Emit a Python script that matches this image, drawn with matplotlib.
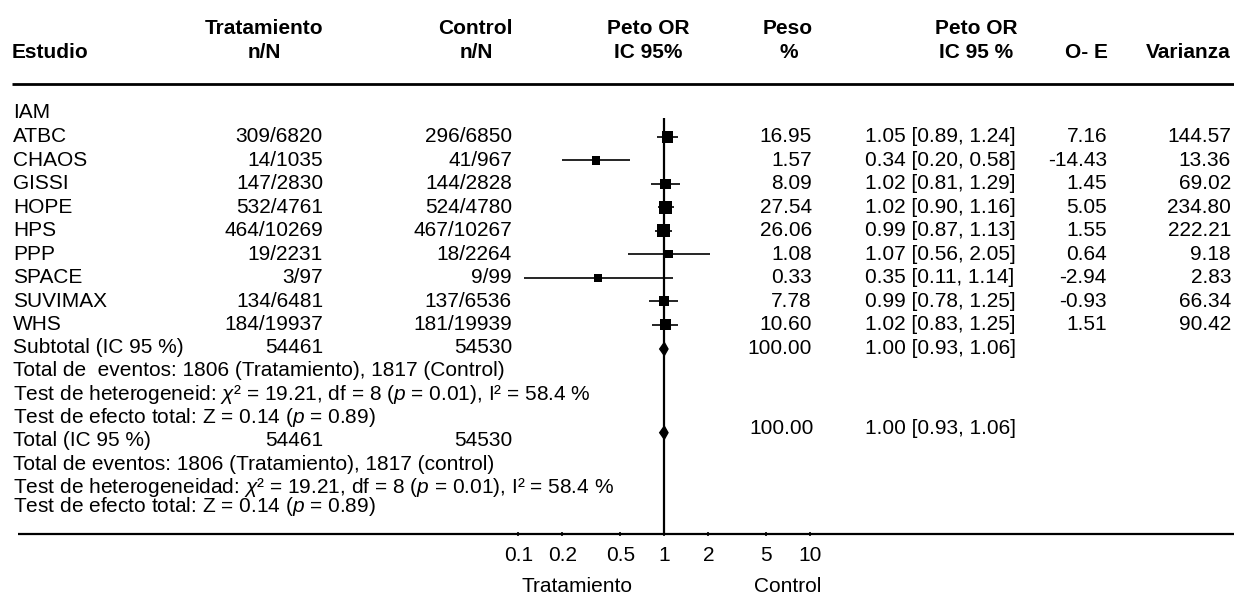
import numpy as np
import matplotlib.pyplot as plt
from matplotlib.ticker import FixedLocator, FixedFormatter, NullLocator

plt.rcParams['font.family'] = ['Liberation Sans', 'DejaVu Sans']
plt.rcParams['mathtext.fontset'] = 'custom'
plt.rcParams['mathtext.rm'] = 'Liberation Sans'
plt.rcParams['mathtext.it'] = 'Liberation Sans:italic'

# datos de los estudios
estudios = ['ATBC', 'CHAOS', 'GISSI', 'HOPE', 'HPS', 'PPP', 'SPACE', 'SUVIMAX', 'WHS']
tratamiento = ['309/6820', '14/1035', '147/2830', '532/4761', '464/10269',
               '19/2231', '3/97', '134/6481', '184/19937']
control = ['296/6850', '41/967', '144/2828', '524/4780', '467/10267',
           '18/2264', '9/99', '137/6536', '181/19939']
peso = [16.95, 1.57, 8.09, 27.54, 26.06, 1.08, 0.33, 7.78, 10.60]
peto_or = [1.05, 0.34, 1.02, 1.02, 0.99, 1.07, 0.35, 0.99, 1.02]
ic_inf = [0.89, 0.20, 0.81, 0.90, 0.87, 0.56, 0.11, 0.78, 0.83]
ic_sup = [1.24, 0.58, 1.29, 1.16, 1.13, 2.05, 1.14, 1.25, 1.25]
o_e = [7.16, -14.43, 1.45, 5.05, 1.55, 0.64, -2.94, -0.93, 1.51]
varianza = [144.57, 13.36, 69.02, 234.80, 222.21, 9.18, 2.83, 66.34, 90.42]

# resumen
or_global, ic_global_inf, ic_global_sup = 1.00, 0.93, 1.06
peso_total = 100.00
n_trat, n_ctrl = 54461, 54530
ev_trat, ev_ctrl = 1806, 1817
chi2, gl, p_het, i2 = 19.21, 8, 0.01, 58.4
z_val, p_z = 0.14, 0.89

ticks = [0.1, 0.2, 0.5, 1, 2, 5, 10]
tick_labels = ['0.1', '0.2', '0.5', '1', '2', '5', '10']

W, H = 1234, 597
FS = 15.0

fig = plt.figure(figsize=(W / 100, H / 100), dpi=100)

# ejes para texto en coordenadas de pixel
tx = fig.add_axes([0, 0, 1, 1])
tx.set_xlim(0, W)
tx.set_ylim(H, 0)
tx.axis('off')

# ejes del forest plot (escala log)
fx = fig.add_axes([0, 0, 1, 1])
fx.set_xscale('log')
ppd = 146.0
x_uno = 664.3
fx.set_xlim(10 ** (-x_uno / ppd), 10 ** ((W - x_uno) / ppd))
fx.set_ylim(H, 0)
fx.patch.set_visible(False)
for s in fx.spines.values():
    s.set_visible(False)
fx.spines['bottom'].set_position(('data', 534))
fx.yaxis.set_major_locator(NullLocator())
fx.xaxis.set_major_locator(FixedLocator(ticks))
fx.xaxis.set_major_formatter(FixedFormatter(tick_labels))
fx.xaxis.set_minor_locator(NullLocator())
fx.tick_params(axis='x', direction='inout', length=3, width=1.2, pad=7,
               labelsize=FS, colors='black')

# cabecera
bold = dict(fontsize=FS, fontweight='bold', va='center')
tx.text(12, 53, 'Estudio', ha='left', **bold)
tx.text(264, 28, 'Tratamiento', ha='center', **bold)
tx.text(264, 53, 'n/N', ha='center', **bold)
tx.text(475, 29, 'Control', ha='center', **bold)
tx.text(476, 53, 'n/N', ha='center', **bold)
tx.text(648, 28, 'Peto OR', ha='center', **bold)
tx.text(648, 52, 'IC 95%', ha='center', **bold)
tx.text(788, 28, 'Peso', ha='center', **bold)
tx.text(789, 52, '%', ha='center', **bold)
tx.text(976, 28, 'Peto OR', ha='center', **bold)
tx.text(976, 52, 'IC 95 %', ha='center', **bold)
tx.text(1086, 53, 'O- E', ha='center', **bold)
tx.text(1231, 53, 'Varianza', ha='right', **bold)

tx.hlines(84, 12, W, color='black', lw=2.0)
tx.hlines(534, 18, W, color='black', lw=1.6)

norm = dict(fontsize=FS, va='center')

# filas de estudios
y0, paso = 136.7, 23.5
filas = y0 + paso * np.arange(len(estudios))
tx.text(13, 113, 'IAM', ha='left', **norm)
for i, y in enumerate(filas):
    tx.text(13, y, estudios[i], ha='left', **norm)
    tx.text(323, y, tratamiento[i], ha='right', **norm)
    tx.text(512, y, control[i], ha='right', **norm)
    tx.text(812, y, f'{peso[i]:.2f}', ha='right', **norm)
    tx.text(865, y, f'{peto_or[i]:.2f} [{ic_inf[i]:.2f}, {ic_sup[i]:.2f}]', ha='left', **norm)
    tx.text(1107, y, f'{o_e[i]:.2f}', ha='right', **norm)
    tx.text(1231, y, f'{varianza[i]:.2f}', ha='right', **norm)

fx.hlines(filas, ic_inf, ic_sup, color='black', lw=1.2)
tam_px = 7.5 + 1.0 * np.sqrt(np.array(peso))
fx.scatter(peto_or, filas, s=(tam_px * 0.72) ** 2, marker='s', color='black',
           linewidths=0, zorder=3)

fx.vlines(1, 118, 534, color='black', lw=1.6)


def diamante(y, h=6.5):
    fx.fill([ic_global_inf, or_global, ic_global_sup, or_global],
            [y, y - h, y, y + h], color='black', zorder=3)


texto_ic = f'{or_global:.2f} [{ic_global_inf:.2f}, {ic_global_sup:.2f}]'
het = (rf'$\chi$² = {chi2:.2f}, df = {gl} ($p$ = {p_het:.2f}), I² = {i2:.1f} %')
efecto = rf'Test de efecto total: Z = {z_val:.2f} ($p$ = {p_z:.2f})'

# subtotal
tx.text(13, 347.3, 'Subtotal (IC 95 %)', ha='left', **norm)
tx.text(323, 347.3, f'{n_trat}', ha='right', **norm)
tx.text(512, 347.3, f'{n_ctrl}', ha='right', **norm)
tx.text(812, 349, f'{peso_total:.2f}', ha='right', **norm)
tx.text(865, 349, texto_ic, ha='left', **norm)
diamante(349)
tx.text(13, 370.7, f'Total de  eventos: {ev_trat} (Tratamiento), {ev_ctrl} (Control)',
        ha='left', **norm)
tx.text(13, 394, 'Test de heterogeneid: ' + het, ha='left', **norm)
tx.text(13, 417.7, efecto, ha='left', **norm)

# total
tx.text(13, 441, 'Total (IC 95 %)', ha='left', **norm)
tx.text(323, 441, f'{n_trat}', ha='right', **norm)
tx.text(512, 441, f'{n_ctrl}', ha='right', **norm)
tx.text(814, 429, f'{peso_total:.2f}', ha='right', **norm)
tx.text(865, 429, texto_ic, ha='left', **norm)
diamante(432.7)
tx.text(13, 465, f'Total de eventos: {ev_trat} (Tratamiento), {ev_ctrl} (control)',
        ha='left', **norm)
tx.text(13, 487.7, 'Test de heterogeneidad: ' + het, ha='left', **norm)
tx.text(13, 506, efecto, ha='left', **norm)

# etiquetas bajo el eje
tx.text(577, 587, 'Tratamiento', ha='center', **norm)
tx.text(788, 587, 'Control', ha='center', **norm)

fig.savefig('out.png', dpi=100, facecolor='white')
